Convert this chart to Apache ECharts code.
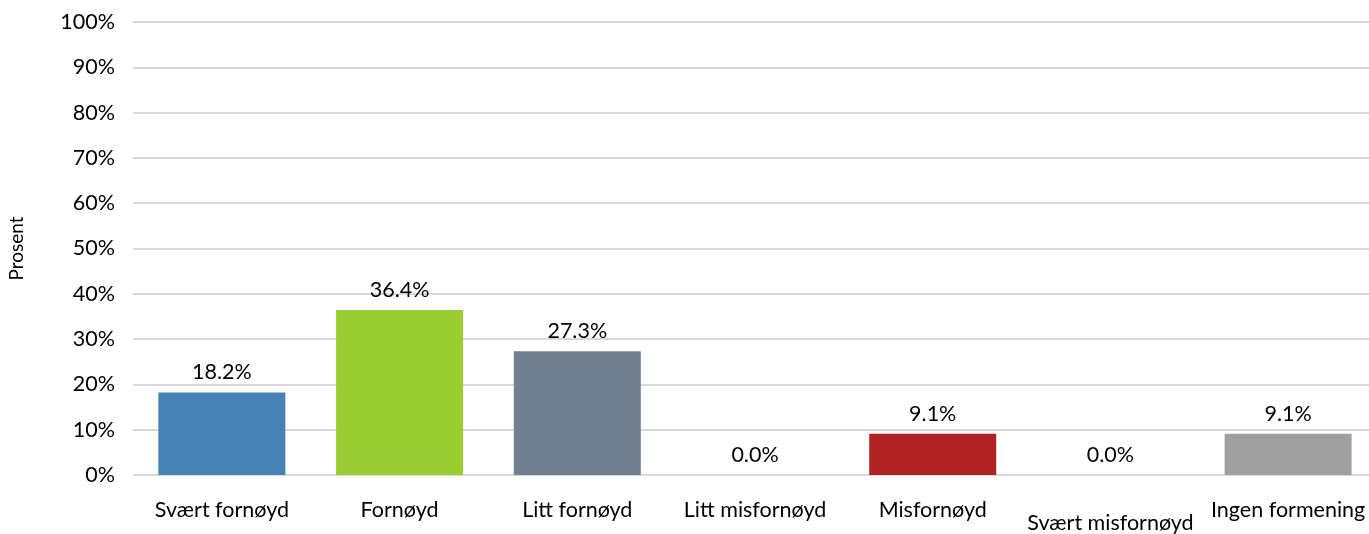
<!DOCTYPE html>
<html><head><meta charset="utf-8">
<script src="https://cdn.jsdelivr.net/npm/echarts@6/dist/echarts.min.js"></script>
<style>html,body{margin:0;padding:0;background:#fff}#c{width:1369px;height:534px}</style>
</head><body><div id="c"></div>
<script>
const categories = ["Svært fornøyd","Fornøyd","Litt fornøyd","Litt misfornøyd","Misfornøyd","Svært misfornøyd","Ingen formening"];
const values = [18.2, 36.4, 27.3, 0.0, 9.1, 0.0, 9.1];
const colors = ["#4682B4","#9ACD32","#708090","#708090","#B22222","#708090","#A0A0A0"];
const yTicks = [0,10,20,30,40,50,60,70,80,90,100];
const FONT = "Lato, 'Open Sans', sans-serif";
const FS = 21.5;
const chart = echarts.init(document.getElementById('c'));
chart.setOption({
  animation:false,
  grid:{left:133,right:-8,top:22,bottom:59,containLabel:false,outerBoundsMode:'none'},
  xAxis:{type:'category',data:categories,
    axisLine:{show:false},axisTick:{show:false},
    axisLabel:{interval:0,margin:24,color:'#000',fontSize:FS,fontFamily:FONT,hideOverlap:false,
      formatter:(v,i)=> i===5 ? '{low|'+v+'}' : v,
      rich:{low:{fontSize:FS,fontFamily:FONT,color:'#000',padding:[13,0,0,0]}}}},
  yAxis:{type:'value',min:0,max:100,interval:10,
    name:'Prosent',nameLocation:'middle',nameGap:107,nameRotate:90,
    nameTextStyle:{color:'#000',fontSize:19,fontFamily:FONT},
    axisLine:{show:false},axisTick:{show:false},
    splitLine:{lineStyle:{color:'#d9d9d9',width:2}},
    axisLabel:{margin:18,color:'#000',fontSize:FS,fontFamily:FONT,formatter:v=>v+'%'}},
  series:[{type:'bar',barWidth:127,
    data:values.map((v,i)=>({value:v,itemStyle:{color:colors[i]}})),
    label:{show:true,position:'top',distance:9,color:'#000',fontSize:FS,fontFamily:FONT,
      formatter:p=>p.value.toFixed(1)+'%'}}]
});
</script></body></html>
